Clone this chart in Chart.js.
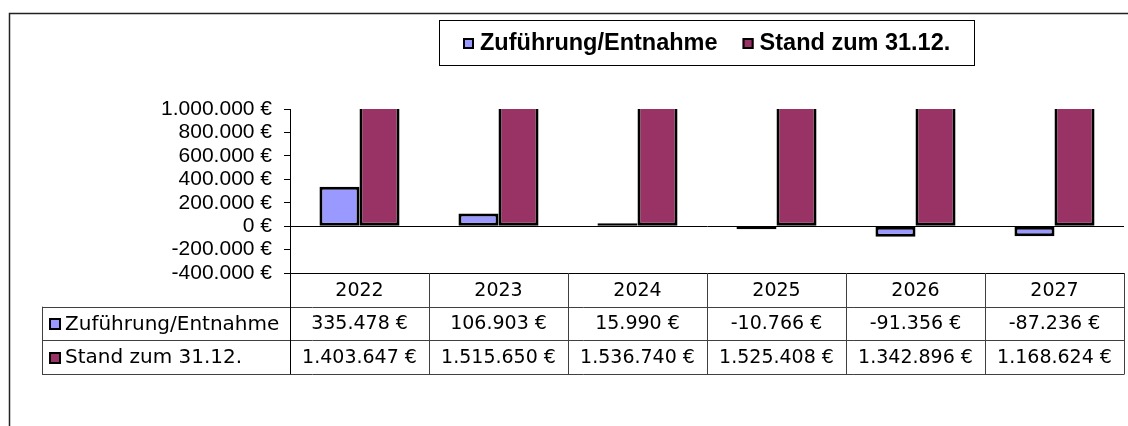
<!DOCTYPE html>
<html lang="de">
<head>
<meta charset="utf-8">
<title>Zuführung/Entnahme – Stand zum 31.12.</title>
<script src="https://cdn.jsdelivr.net/npm/chart.js@4/dist/chart.umd.min.js"></script>
<style>
    html, body { margin: 0; padding: 0; background: #fff; }
    #wrap { width: 1128px; height: 426px; }
</style>
</head>
<body>
<div id="wrap"><canvas id="mainChart" width="1128" height="426"></canvas></div>
<script>
"use strict";

const years = ["2022", "2023", "2024", "2025", "2026", "2027"];
const zufuehrungValues = [335478, 106903, 15990, -10766, -91356, -87236];
const standValues = [1403647, 1515650, 1536740, 1525408, 1342896, 1168624];
const seriesLabels = ["Zuführung/Entnahme", "Stand zum 31.12."];
const seriesColors = ["#9999ff", "#993366"];
const yMin = -400000;
const yMax = 1000000;
const yStep = 200000;

const VALUE_FONT = "19px 'DejaVu Sans', sans-serif";
const LABEL_FONT = "20px 'DejaVu Sans', sans-serif";
const LINE_COLOR = "#404040";

/** 1234567 -> "1.234.567 €" */
function euro(v) {
    const s = Math.abs(v).toString().replace(/\B(?=(\d{3})+(?!\d))/g, ".");
    return (v < 0 ? "-" : "") + s + " €";
}

function px(v) {
    return Math.round(v) + 0.5;
}

function hLine(ctx, x1, x2, y) {
    ctx.beginPath();
    ctx.moveTo(x1, px(y));
    ctx.lineTo(x2, px(y));
    ctx.stroke();
}

function vLine(ctx, x, y1, y2) {
    ctx.beginPath();
    ctx.moveTo(px(x), y1);
    ctx.lineTo(px(x), y2);
    ctx.stroke();
}

function drawKey(ctx, x, y, size, color) {
    ctx.fillStyle = color;
    ctx.fillRect(x, y, size, size);
    ctx.strokeStyle = "#000";
    ctx.lineWidth = 2;
    ctx.strokeRect(x + 1, y + 1, size - 2, size - 2);
}

/** Outer frame of the chart object (only top and left edge are visible). */
const framePlugin = {
    id: "framePlugin",
    beforeDraw(chart) {
        const { ctx } = chart;
        ctx.save();
        ctx.strokeStyle = "#222";
        ctx.lineWidth = 1.5;
        ctx.beginPath();
        ctx.moveTo(9.5, chart.height);
        ctx.lineTo(9.5, 13.5);
        ctx.lineTo(chart.width, 13.5);
        ctx.stroke();
        ctx.restore();
    }
};

/** Boxed legend above the plot, centred on the plot area. */
const boxLegendPlugin = {
    id: "boxLegendPlugin",
    afterDraw(chart) {
        const { ctx, chartArea } = chart;
        const key = 11, keyGap = 6, itemGap = 25, padX = 24;
        const top = 20, height = 45;

        ctx.save();
        ctx.font = "bold 23.5px 'Liberation Sans', Arial, sans-serif";
        const widths = chart.data.datasets.map((ds) => ctx.measureText(ds.label).width);
        let total = padX * 2 + itemGap * (widths.length - 1);
        widths.forEach((w) => { total += key + keyGap + w; });

        const left = Math.round((chartArea.left + chartArea.right) / 2 - total / 2);
        ctx.strokeStyle = "#000";
        ctx.lineWidth = 1;
        ctx.strokeRect(left + 0.5, top + 0.5, Math.round(total), height);

        const cy = top + height / 2 + 0.5;
        let x = left + padX;
        chart.data.datasets.forEach((ds, i) => {
            drawKey(ctx, x, Math.round(cy - key / 2), key, ds.backgroundColor);
            x += key + keyGap;
            ctx.fillStyle = "#000";
            ctx.textAlign = "left";
            ctx.textBaseline = "middle";
            ctx.fillText(ds.label, x, cy + 1);
            x += widths[i] + itemGap;
        });
        ctx.restore();
    }
};

/** Excel-style data table under the plot, columns taken from the x scale. */
const dataTablePlugin = {
    id: "dataTablePlugin",
    afterDraw(chart) {
        const { ctx, chartArea } = chart;
        const xScale = chart.scales.x;
        const n = chart.data.labels.length;
        const step = n > 1 ? xScale.getPixelForValue(1) - xScale.getPixelForValue(0) : chartArea.right - chartArea.left;
        const rowH = 33.7;
        const top = chartArea.bottom;
        const labelLeft = 42;
        const bottom = top + rowH * 3;

        ctx.save();
        ctx.lineWidth = 1;
        ctx.strokeStyle = LINE_COLOR;

        // horizontal rules of the two value rows
        hLine(ctx, labelLeft, chartArea.right + 0.5, top + rowH);
        hLine(ctx, labelLeft, chartArea.right + 0.5, top + rowH * 2);
        hLine(ctx, labelLeft, chartArea.right + 0.5, bottom);

        // column rules
        vLine(ctx, labelLeft, top + rowH, bottom);
        for (let i = 1; i < n; i++) {
            vLine(ctx, xScale.getPixelForValue(i) - step / 2, top, bottom);
        }
        vLine(ctx, chartArea.right, top, bottom);

        ctx.strokeStyle = "#000";
        vLine(ctx, chartArea.left, top, bottom);

        ctx.font = VALUE_FONT;
        ctx.fillStyle = "#000";
        ctx.textBaseline = "middle";
        ctx.textAlign = "center";

        chart.data.labels.forEach((label, i) => {
            ctx.fillText(label, xScale.getPixelForValue(i), top + rowH / 2 + 1);
        });

        chart.data.datasets.forEach((ds, r) => {
            const cy = top + rowH * (r + 1) + rowH / 2 + 1;
            ctx.font = VALUE_FONT;
            ds.data.forEach((v, i) => {
                ctx.textAlign = "center";
                ctx.fillStyle = "#000";
                ctx.fillText(euro(v), xScale.getPixelForValue(i), cy);
            });
            drawKey(ctx, 49, Math.round(cy - 6.5), 12, ds.backgroundColor);
            ctx.font = LABEL_FONT;
            ctx.fillStyle = "#000";
            ctx.textAlign = "left";
            ctx.fillText(ds.label, 65, cy);
        });

        ctx.restore();
    }
};

const canvas = document.getElementById("mainChart");

new Chart(canvas.getContext("2d"), {
    type: "bar",
    data: {
        labels: years,
        datasets: [
            {
                label: seriesLabels[0],
                data: zufuehrungValues,
                backgroundColor: seriesColors[0],
                borderColor: "#000",
                borderWidth: 3,
                borderSkipped: false,
                minBarLength: 3,
            },
            {
                label: seriesLabels[1],
                data: standValues,
                backgroundColor: seriesColors[1],
                borderColor: "#000",
                borderWidth: 3,
                borderSkipped: false,
            }
        ]
    },
    options: {
        responsive: false,
        devicePixelRatio: 1,
        animation: false,
        layout: {
            padding: { left: 0, right: 4, top: 109, bottom: 0 }
        },
        datasets: {
            bar: {
                categoryPercentage: 0.576,
                barPercentage: 1
            }
        },
        plugins: {
            legend: { display: false },
            tooltip: { enabled: false }
        },
        scales: {
            x: {
                offset: true,
                grid: { display: false },
                border: { display: false },
                ticks: { display: false },
                afterFit(scale) { scale.height = 153; }
            },
            y: {
                min: yMin,
                max: yMax,
                border: { display: true, color: "#000", width: 1 },
                grid: {
                    drawOnChartArea: true,
                    tickLength: 6,
                    tickColor: "#000",
                    lineWidth: 1,
                    color: (c) => (c.tick && (c.tick.value === 0 || c.tick.value === yMin)) ? "#000" : "rgba(0,0,0,0)"
                },
                ticks: {
                    stepSize: yStep,
                    autoSkip: false,
                    padding: 12,
                    color: "#000",
                    font: { family: "'Liberation Sans', Arial, sans-serif", size: 21, lineHeight: 1 },
                    callback: (v) => euro(v)
                },
                afterFit(scale) { scale.width = 290; }
            }
        }
    },
    plugins: [framePlugin, boxLegendPlugin, dataTablePlugin]
});
</script>
</body>
</html>
